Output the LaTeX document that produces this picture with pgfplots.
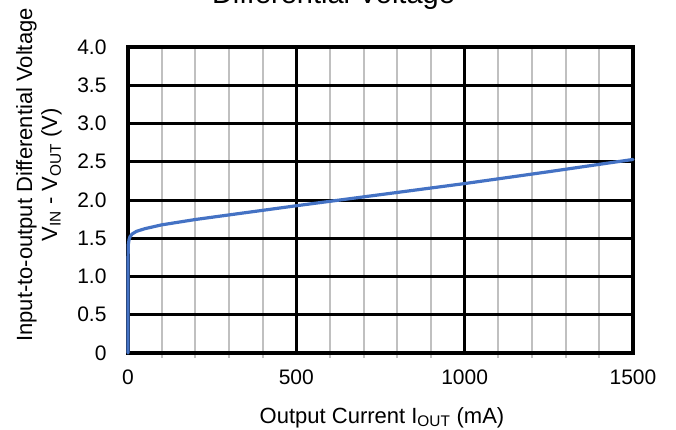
\documentclass[border=0pt]{standalone}
\usepackage{fontspec}
\setmainfont{Liberation Sans}
\usepackage{pgfplots}
\pgfplotsset{compat=1.18}
\definecolor{curveblue}{RGB}{68,114,196}
\definecolor{minorgray}{RGB}{192,192,192}
\begin{document}
\begin{tikzpicture}
\begin{axis}[
  scale only axis,
  width=505pt, height=306pt,
  xmin=0, xmax=1500, ymin=0, ymax=4,
  xtick={0,500,1000,1500},
  xticklabels={0,500,1000,1500},
  minor xtick={100,200,300,400,600,700,800,900,1100,1200,1300,1400},
  ytick={0,0.5,1,1.5,2,2.5,3,3.5,4},
  yticklabels={0,0.5,1.0,1.5,2.0,2.5,3.0,3.5,4.0},
  /pgf/number format/assume math mode=true,
  xmajorgrids, ymajorgrids, xminorgrids,
  major grid style={black, line width=3pt},
  minor grid style={minorgray, line width=2pt},
  axis line style={black, line width=3.5pt},
  major tick length=0pt,
  minor tick length=5pt,
  tick align=outside,
  xtick pos=bottom, ytick pos=left,
  minor tick style={minorgray, line width=2pt},
  ticklabel style={font=\fontsize{21}{25}\selectfont},
  xticklabel style={yshift=-13pt},
  yticklabel style={xshift=-18pt},
  title={Differential Voltage},
  title style={font=\fontsize{29}{34}\selectfont, at={(205.5pt,343pt)}, anchor=base, inner sep=0pt},
  xlabel={Output Current I\textsubscript{OUT} (mA)},
  xlabel style={font=\fontsize{22}{25}\selectfont, at={(254pt,-70pt)}, anchor=base, inner sep=0pt},
  ylabel={Input-to-output Differential Voltage\\V\textsubscript{IN} - V\textsubscript{OUT} (V)},
  ylabel style={font=\fontsize{22}{25}\selectfont, align=center, at={(-89pt,178pt)}, anchor=center, inner sep=0pt, rotate=0},
  clip=false,
]
\addplot[curveblue, line width=3.2pt, line join=round, line cap=round] coordinates {
(0,0) (0,1.20) (1,1.42) (3,1.48) (6,1.52) (12,1.555) (25,1.59) (50,1.625) (100,1.675) (200,1.745) (300,1.805) (500,1.925) (750,2.07) (1000,2.215) (1250,2.37) (1500,2.53)
};
\end{axis}
\pgfresetboundingbox
\useasboundingbox (-128pt,-76pt) rectangle (548pt,353pt);
\end{tikzpicture}
\end{document}
